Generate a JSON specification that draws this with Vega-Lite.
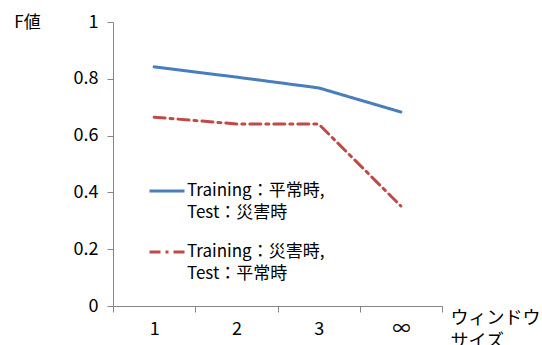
{
  "$schema": "https://vega.github.io/schema/vega-lite/v6.json",
  "autosize": "none",
  "width": 329,
  "height": 284,
  "padding": {"left": 113, "top": 22, "right": 100, "bottom": 39},
  "background": "white",
  "config": {
    "font": "Noto Sans CJK JP",
    "view": {"stroke": null},
    "axis": {"labelFont": "Noto Sans CJK JP", "titleFont": "Noto Sans CJK JP", "labelColor": "#000", "titleColor": "#000", "domainColor": "#868686", "tickColor": "#868686", "grid": false, "labelFontSize": 18, "titleFontSize": 17, "titleFontWeight": "normal"}
  },
  "data": {"values": [
    {"w": "1", "s": "Training：平常時,|Test：災害時", "f": 0.842},
    {"w": "2", "s": "Training：平常時,|Test：災害時", "f": 0.806},
    {"w": "3", "s": "Training：平常時,|Test：災害時", "f": 0.768},
    {"w": "∞", "s": "Training：平常時,|Test：災害時", "f": 0.683},
    {"w": "1", "s": "Training：災害時,|Test：平常時", "f": 0.665},
    {"w": "2", "s": "Training：災害時,|Test：平常時", "f": 0.641},
    {"w": "3", "s": "Training：災害時,|Test：平常時", "f": 0.641},
    {"w": "∞", "s": "Training：災害時,|Test：平常時", "f": 0.352}
  ]},
  "mark": {"type": "line", "strokeWidth": 3, "strokeCap": "round"},
  "encoding": {
    "x": {"field": "w", "type": "ordinal", "sort": ["1", "2", "3", "∞"],
      "scale": {"paddingInner": 0, "paddingOuter": 0},
      "axis": {"tickBand": "extent", "labelAngle": 0, "tickSize": 6, "labelPadding": 8, "labelBaseline": "top",
        "title": ["ウィンドウ", "サイズ"], "titleFontSize": 18, "titleX": 337, "titleY": 12, "titleAlign": "left", "titleBaseline": "middle", "titleAnchor": null, "titleLineHeight": 23}},
    "y": {"field": "f", "type": "quantitative", "scale": {"domain": [0, 1]},
      "axis": {"values": [0, 0.2, 0.4, 0.6, 0.8, 1], "format": "~g", "tickSize": 6, "labelPadding": 9,
        "title": "F値", "titleAngle": 0, "titleX": -86, "titleY": 0, "titleAlign": "center", "titleBaseline": "middle"}},
    "color": {"field": "s", "type": "nominal", "scale": {"range": ["#4A7EBB", "#BE4B48"]},
      "legend": {"orient": "none", "legendX": 35, "legendY": 150, "title": null, "symbolType": "stroke", "symbolSize": 1225, "symbolStrokeWidth": 3,
        "labelExpr": "split(datum.label, '|')", "labelFontSize": 17, "labelFont": "Noto Sans CJK JP", "labelColor": "#000", "labelLimit": 300, "rowPadding": 12, "labelOffset": 1,
        "encoding": {"labels": {"lineHeight": {"value": 22}}}}},
    "strokeDash": {"field": "s", "type": "nominal", "scale": {"range": [[1, 0], [11, 5, 3, 5]]}, "legend": null}
  }
}
